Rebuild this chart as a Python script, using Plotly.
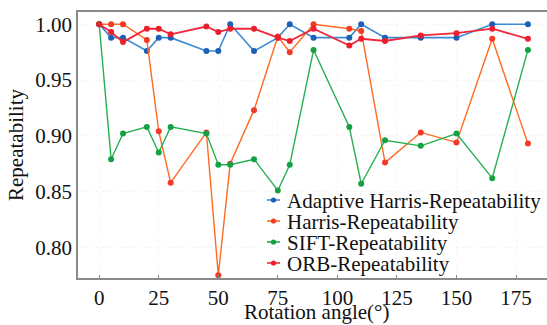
import plotly.graph_objects as go

angles = [0, 5, 10, 20, 25, 30, 45, 50, 55, 65, 75, 80, 90, 105, 110, 120, 135, 150, 165, 180]

adaptive_harris = [1.000, 0.988, 0.988, 0.976, 0.988, 0.988, 0.976, 0.976, 1.000, 0.976,
                   0.988, 1.000, 0.988, 0.988, 1.000, 0.988, 0.988, 0.988, 1.000, 1.000]
harris = [1.000, 1.000, 1.000, 0.986, 0.904, 0.858, 0.903, 0.775, 0.875, 0.923,
          0.989, 0.975, 1.000, 0.996, 0.994, 0.876, 0.903, 0.894, 0.987, 0.893]
sift = [1.000, 0.879, 0.902, 0.908, 0.885, 0.908, 0.902, 0.874, 0.874, 0.879,
        0.851, 0.874, 0.977, 0.908, 0.857, 0.896, 0.891, 0.902, 0.862, 0.977]
orb = [1.000, 0.993, 0.984, 0.996, 0.996, 0.991, 0.998, 0.993, 0.996, 0.996,
       0.988, 0.985, 0.996, 0.981, 0.987, 0.985, 0.990, 0.992, 0.996, 0.987]

series_names = ["Adaptive Harris-Repeatability", "Harris-Repeatability",
                "SIFT-Repeatability", "ORB-Repeatability"]
series_values = [adaptive_harris, harris, sift, orb]

x_ticks = [0, 25, 50, 75, 100, 125, 150, 175]
y_ticks = [0.80, 0.85, 0.90, 0.95, 1.00]
x_title = "Rotation angle(°)"
y_title = "Repeatability"

line_colors = ["#3b8ad6", "#ff6a21", "#25b050", "#f0283a"]
marker_colors = ["#1d5fb5", "#f23a26", "#14a043", "#ec1f2e"]
line_widths = [1.6, 1.4, 1.4, 1.8]

FONT = "Times New Roman"
W, H = 547, 325
ML, MR, MT, MB = 78, 0, 12, 47
PW, PH = W - ML - MR, H - MT - MB

fig = go.Figure()
for name, vals, lc, mc, lw in zip(series_names, series_values, line_colors, marker_colors, line_widths):
    fig.add_trace(go.Scatter(
        x=angles, y=vals, mode="lines+markers", name=name,
        line=dict(color=lc, width=lw),
        marker=dict(color=mc, size=6),
        showlegend=False,
    ))

def px2paper_x(px):
    return (px - ML) / PW

def px2paper_y(py):
    return (H - MB - py) / PH

shapes = []
annotations = []
row_y = [200, 221, 242, 263]
for name, lc, mc, ry in zip(series_names, line_colors, marker_colors, row_y):
    shapes.append(dict(type="line", xref="paper", yref="paper",
                       x0=px2paper_x(267), x1=px2paper_x(280),
                       y0=px2paper_y(ry), y1=px2paper_y(ry),
                       line=dict(color=lc, width=1.6)))
    shapes.append(dict(type="circle", xref="paper", yref="paper",
                       xsizemode="pixel", ysizemode="pixel",
                       xanchor=px2paper_x(273.5), yanchor=px2paper_y(ry),
                       x0=-2.6, x1=2.6, y0=-2.6, y1=2.6,
                       fillcolor=mc, line=dict(color=mc, width=0)))
    annotations.append(dict(text=name, xref="paper", yref="paper",
                            x=px2paper_x(285), y=px2paper_y(ry + 1),
                            xanchor="left", yanchor="middle", showarrow=False,
                            font=dict(family=FONT, size=21, color="#111111")))

# x-axis title placed as in the reference
annotations.append(dict(text=x_title, xref="paper", yref="paper",
                        x=px2paper_x(316), y=px2paper_y(312),
                        xanchor="center", yanchor="middle", showarrow=False,
                        font=dict(family=FONT, size=21, color="#111111")))

fig.update_layout(
    width=W, height=H,
    margin=dict(l=ML, r=MR, t=MT, b=MB),
    paper_bgcolor="white", plot_bgcolor="white",
    font=dict(family=FONT, size=21, color="#111111"),
    shapes=shapes, annotations=annotations,
    showlegend=False,
)
fig.update_xaxes(
    range=[-8.9, 188], tickvals=x_ticks, ticktext=[str(v) for v in x_ticks],
    showline=True, linecolor="#8a8a8a", linewidth=1.5, mirror=True,
    ticks="inside", ticklen=3, tickcolor="#8a8a8a",
    showgrid=True, gridcolor="#f5f5f5", griddash="dot", gridwidth=1,
    zeroline=False, automargin=False,
    tickfont=dict(family=FONT, size=21, color="#111111"),
)
fig.update_yaxes(
    range=[0.7725, 1.011], tickvals=y_ticks, ticktext=[f"{v:.2f}" for v in y_ticks],
    showline=True, linecolor="#8a8a8a", linewidth=1.5, mirror=True,
    ticks="", showgrid=True, gridcolor="#f5f5f5", griddash="dot", gridwidth=1,
    zeroline=False, automargin=False,
    tickfont=dict(family=FONT, size=21, color="#111111"),
    title=dict(text=y_title, font=dict(family=FONT, size=21, color="#111111"), standoff=6),
)

fig.write_html("out.html")
